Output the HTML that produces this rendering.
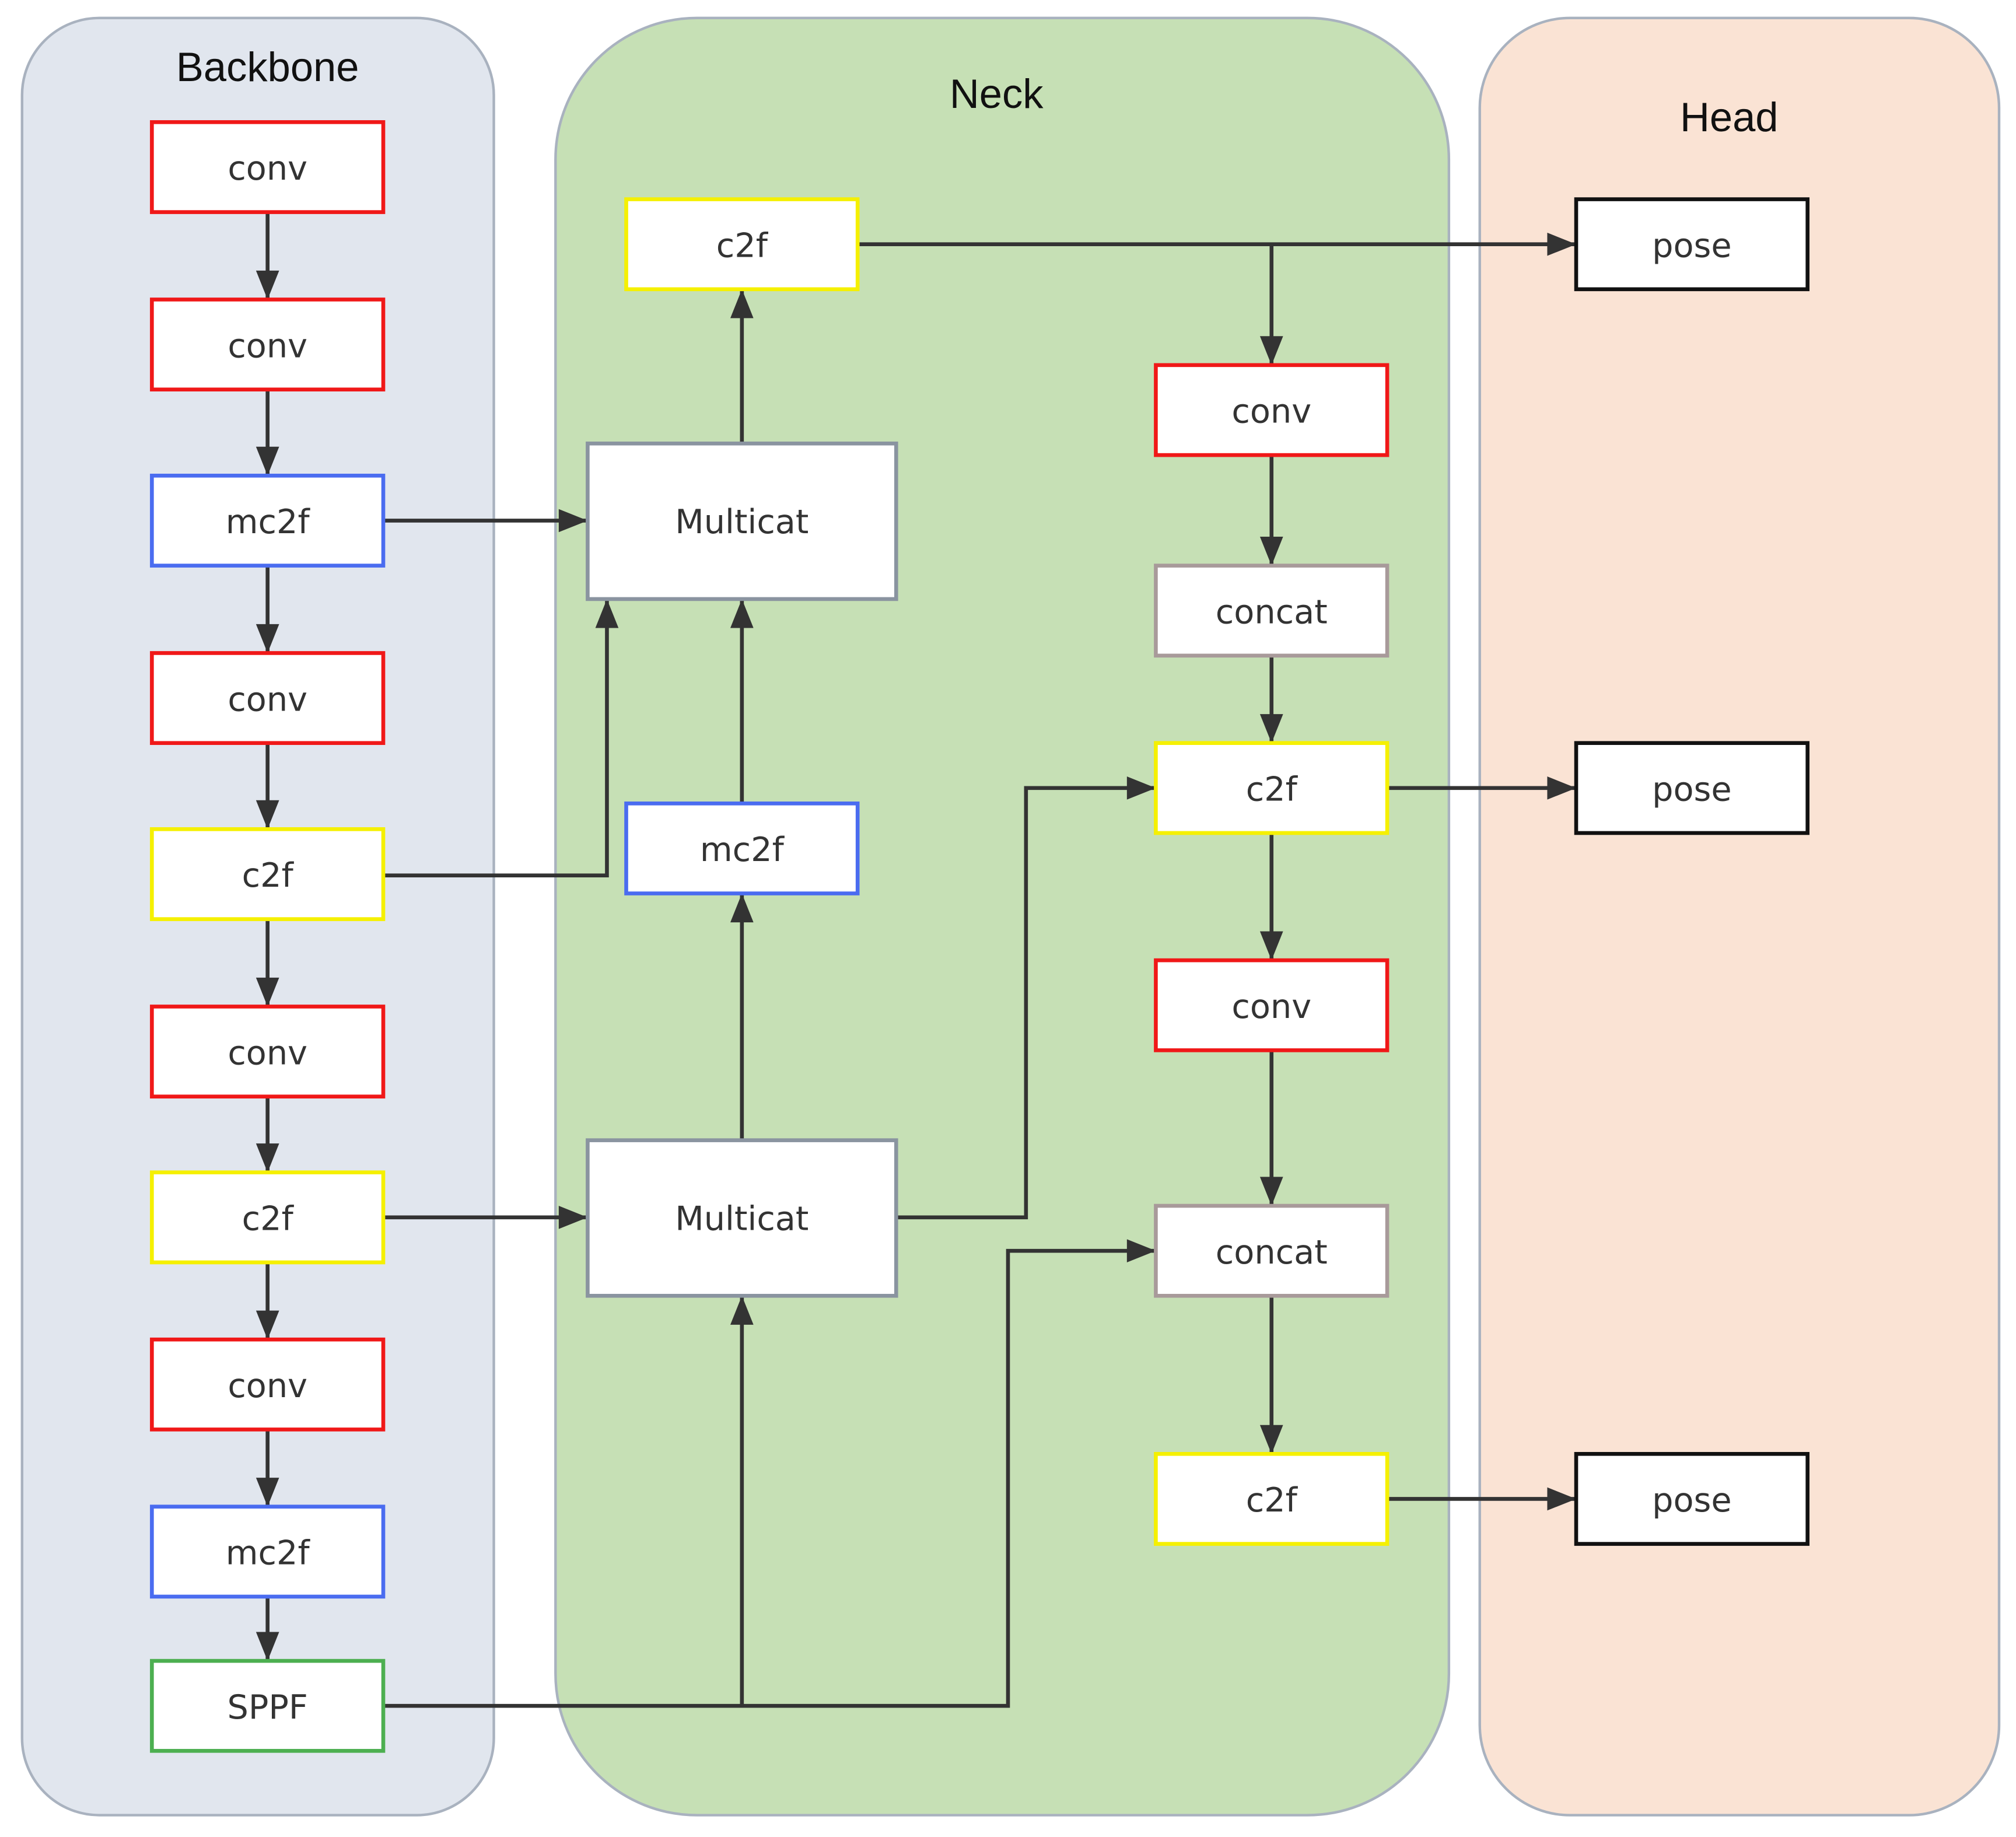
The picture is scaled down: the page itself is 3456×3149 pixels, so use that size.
<!DOCTYPE html>
<html><head><meta charset="utf-8"><style>html,body{margin:0;padding:0;background:#fff}svg{display:block}</style></head><body>
<svg xmlns="http://www.w3.org/2000/svg" width="3456" height="3149" viewBox="0 0 1568 1429">
<defs><marker id="a" viewBox="0 0 10 8" refX="10" refY="4" markerWidth="8" markerHeight="6" orient="auto" markerUnits="strokeWidth"><path d="M0,0L10,4L0,8z" fill="#333"/></marker></defs>
<rect width="1568" height="1429" fill="#fff"/>
<rect x="17" y="14" width="367" height="1398" rx="60" fill="#e1e6ee" stroke="#a9b2bf" stroke-width="2"/>
<rect x="432" y="14" width="695" height="1398" rx="110" fill="#c6e0b5" stroke="#a9b2bf" stroke-width="2"/>
<rect x="1151" y="14" width="404" height="1398" rx="70" fill="#fae3d4" stroke="#a9b2bf" stroke-width="2"/>
<g font-family="Liberation Sans, sans-serif" font-size="32" fill="#111" text-anchor="middle">
<text x="208" y="63">Backbone</text><text x="775" y="84">Neck</text><text x="1345" y="102">Head</text></g>
<g stroke="#333" stroke-width="3" fill="none" marker-end="url(#a)">
<path d="M208 165V233"/><path d="M208 303V370"/><path d="M208 440V508"/><path d="M208 578V645"/><path d="M208 715V783"/><path d="M208 853V912"/><path d="M208 982V1042"/><path d="M208 1112V1172"/><path d="M208 1242V1292"/>
<path d="M298 405H457"/><path d="M298 681H472V466"/><path d="M577 625V466"/><path d="M577 345V225"/>
<path d="M667 190H1226"/><path d="M989 190V284"/>
<path d="M989 354V440"/><path d="M989 510V578"/><path d="M989 648V747"/><path d="M989 817V938"/><path d="M989 1008V1131"/>
<path d="M697 947H798V613H899"/><path d="M1079 613H1226"/><path d="M1079 1166H1226"/>
<path d="M298 947H457"/><path d="M298 1327H784V973H899"/><path d="M577 1327V1008"/><path d="M577 887V695"/>
</g>
<g stroke-width="3" fill="#fff">
<rect x="118" y="95" width="180" height="70" stroke="#f01818"/>
<rect x="118" y="233" width="180" height="70" stroke="#f01818"/>
<rect x="118" y="370" width="180" height="70" stroke="#4a6cf0"/>
<rect x="118" y="508" width="180" height="70" stroke="#f01818"/>
<rect x="118" y="645" width="180" height="70" stroke="#f5f000"/>
<rect x="118" y="783" width="180" height="70" stroke="#f01818"/>
<rect x="118" y="912" width="180" height="70" stroke="#f5f000"/>
<rect x="118" y="1042" width="180" height="70" stroke="#f01818"/>
<rect x="118" y="1172" width="180" height="70" stroke="#4a6cf0"/>
<rect x="118" y="1292" width="180" height="70" stroke="#4caf50"/>
<rect x="487" y="155" width="180" height="70" stroke="#f5f000"/>
<rect x="457" y="345" width="240" height="121" stroke="#8a94a0"/>
<rect x="487" y="625" width="180" height="70" stroke="#4a6cf0"/>
<rect x="457" y="887" width="240" height="121" stroke="#8a94a0"/>
<rect x="899" y="284" width="180" height="70" stroke="#f01818"/>
<rect x="899" y="440" width="180" height="70" stroke="#a89a9a"/>
<rect x="899" y="578" width="180" height="70" stroke="#f5f000"/>
<rect x="899" y="747" width="180" height="70" stroke="#f01818"/>
<rect x="899" y="938" width="180" height="70" stroke="#a89a9a"/>
<rect x="899" y="1131" width="180" height="70" stroke="#f5f000"/>
<rect x="1226" y="155" width="180" height="70" stroke="#111"/>
<rect x="1226" y="578" width="180" height="70" stroke="#111"/>
<rect x="1226" y="1131" width="180" height="70" stroke="#111"/>
</g>
<g font-family="DejaVu Sans, Liberation Sans, sans-serif" font-size="26" fill="#333" text-anchor="middle" dominant-baseline="central">
<text x="208" y="131">conv</text><text x="208" y="269">conv</text><text x="208" y="406">mc2f</text><text x="208" y="544">conv</text><text x="208" y="681">c2f</text><text x="208" y="819">conv</text><text x="208" y="948">c2f</text><text x="208" y="1078">conv</text><text x="208" y="1208">mc2f</text><text x="208" y="1328">SPPF</text>
<text x="577" y="191">c2f</text><text x="577" y="406">Multicat</text><text x="577" y="661">mc2f</text><text x="577" y="948">Multicat</text>
<text x="989" y="320">conv</text><text x="989" y="476">concat</text><text x="989" y="614">c2f</text><text x="989" y="783">conv</text><text x="989" y="974">concat</text><text x="989" y="1167">c2f</text>
<text x="1316" y="191">pose</text><text x="1316" y="614">pose</text><text x="1316" y="1167">pose</text>
</g>
</svg>
</body></html>
